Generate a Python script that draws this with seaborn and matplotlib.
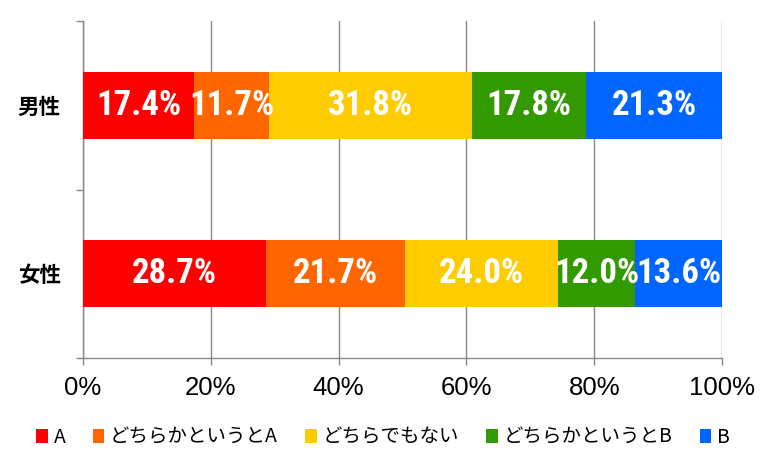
import matplotlib
matplotlib.use("Agg")
import matplotlib.pyplot as plt
from matplotlib.patches import Patch
from matplotlib import font_manager as fm
import seaborn as sns
import pandas as pd
import numpy as np

categories = ["男性", "女性"]
series_names = ["A", "どちらかというとA", "どちらでもない", "どちらかというとB", "B"]
val_A = [17.4, 28.7]
val_leanA = [11.7, 21.7]
val_neutral = [31.8, 24.0]
val_leanB = [17.8, 12.0]
val_B = [21.3, 13.6]
colors = ["#FF0000", "#FF6600", "#FFCC00", "#339900", "#0066FF"]
xticks = [0, 20, 40, 60, 80, 100]
xticklabels = ["0%", "20%", "40%", "60%", "80%", "100%"]

sns.set_theme(style="white")
plt.rcParams["font.family"] = ["Liberation Sans", "Noto Sans CJK JP", "DejaVu Sans"]
plt.rcParams["text.color"] = "black"
plt.rcParams["xtick.color"] = "black"
plt.rcParams["ytick.color"] = "black"

# pick a condensed bold face for the value labels if available
label_font_props = None
for f in fm.fontManager.ttflist:
    if f.name in ("Roboto Condensed",) and str(f.weight) in ("700", "bold"):
        label_font_props = dict(family=["Roboto Condensed"], fontsize=25, fontweight="bold")
        break
if label_font_props is None:
    for f in fm.fontManager.ttflist:
        if f.name == "DejaVu Sans" and "condensed" in str(f.stretch).lower() and str(f.weight) in ("700", "bold"):
            label_font_props = dict(family=["DejaVu Sans"], fontsize=24, fontweight="bold",
                                    fontstretch="condensed")
            break
if label_font_props is None:
    label_font_props = dict(family=["Roboto", "DejaVu Sans"], fontsize=22, fontweight="bold")

values = [val_A, val_leanA, val_neutral, val_leanB, val_B]
rows = []
for si, name in enumerate(series_names):
    for ci, cat in enumerate(categories):
        rows.append({"category": cat, "series": name, "value": values[si][ci]})
df = pd.DataFrame(rows)
df["cum"] = df.groupby("category", sort=False)["value"].cumsum()
df["start"] = df["cum"] - df["value"]

fig = plt.figure(figsize=(7.66, 4.68), dpi=100)
ax = fig.add_axes([0.1084, 0.235, 0.8342, 0.72])

for si in reversed(range(len(series_names))):
    sub = df[df["series"] == series_names[si]]
    sns.barplot(data=sub, x="cum", y="category", order=categories, orient="h",
                color=colors[si], saturation=1, width=0.4, ax=ax, zorder=3,
                linewidth=0)

for _, r in df.iterrows():
    ax.text(r["start"] + r["value"] / 2, categories.index(r["category"]),
            f"{r['value']:.1f}%", ha="center", va="center", color="white",
            zorder=5, **label_font_props)

ax.set_xlim(0, 100)
ax.set_ylim(1.5, -0.5)
ax.set_xticks(xticks)
ax.set_xticklabels(xticklabels, fontsize=18.5, color="black")
ax.set_xlabel("")
ax.set_ylabel("")
ax.set_yticks([0, 1])
ax.set_yticklabels(categories, fontsize=15.5, fontweight="bold", color="black",
                   family=["Noto Sans CJK JP"])
ax.set_yticks([-0.5, 0.5, 1.5], minor=True)
ax.tick_params(axis="y", which="major", length=0, pad=16)
ax.tick_params(axis="y", which="minor", length=5, color="#888888", width=1,
               left=True, direction="out")
ax.tick_params(axis="x", which="major", length=5, color="#888888", width=1,
               bottom=True, direction="out", pad=8)
ax.xaxis.grid(True, color="#888888", linewidth=1, zorder=0)
ax.yaxis.grid(False)
for s in ["top", "right"]:
    ax.spines[s].set_visible(False)
for s in ["left", "bottom"]:
    ax.spines[s].set_color("#888888")
    ax.spines[s].set_linewidth(1)
ax.set_axisbelow(True)

handles = [Patch(facecolor=c, edgecolor="none") for c in colors]
fig.legend(handles, series_names, loc="center", bbox_to_anchor=(0.5, 0.066),
           ncol=5, frameon=False, handlelength=0.6, handleheight=0.7,
           handletextpad=0.3, columnspacing=1.4, labelcolor="black",
           prop={"family": ["Noto Sans CJK JP", "DejaVu Sans"], "size": 14})

fig.savefig("out.png", dpi=100)
